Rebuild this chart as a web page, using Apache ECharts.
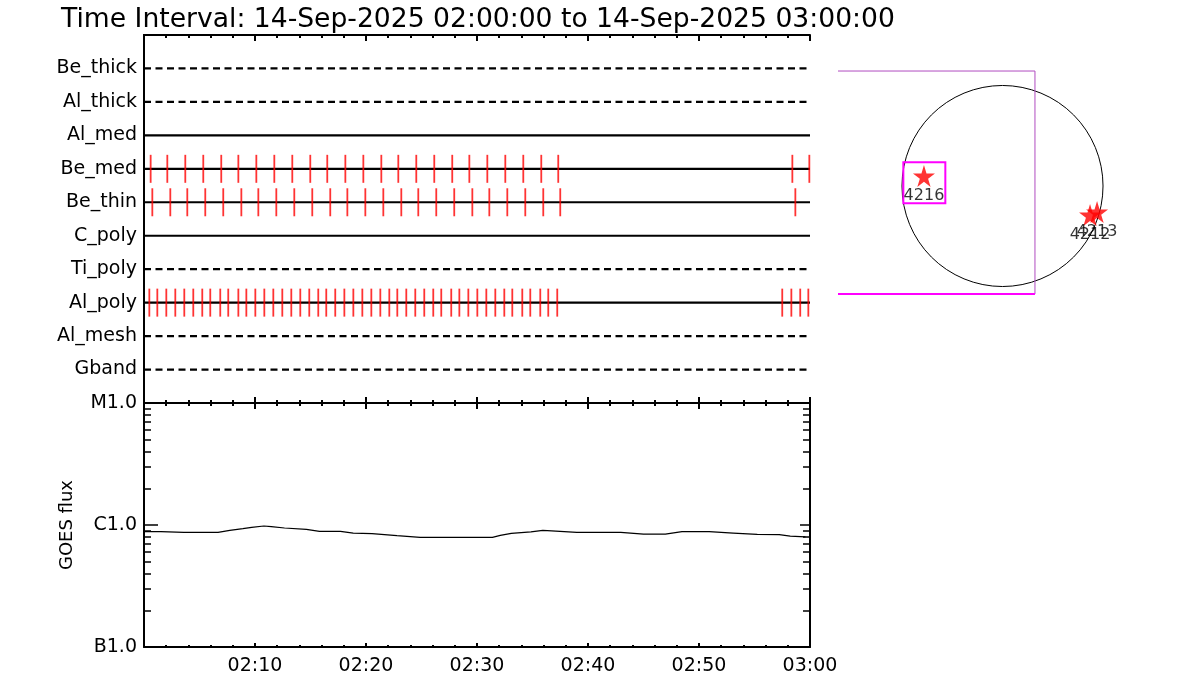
<!DOCTYPE html>
<html>
<head>
<meta charset="utf-8">
<script src="https://cdn.jsdelivr.net/npm/echarts@6/dist/echarts.min.js"></script>
<style>
html,body{margin:0;padding:0;background:#fff;}
#chart{width:1200px;height:700px;}
</style>
</head>
<body>
<div id="chart"></div>
<script>
// ---------------- data ----------------
const titleText = 'Time Interval: 14-Sep-2025 02:00:00 to 14-Sep-2025 03:00:00';
// detectors, top to bottom
const detectors = ['Be_thick','Al_thick','Al_med','Be_med','Be_thin','C_poly','Ti_poly','Al_poly','Al_mesh','Gband'];
const inactiveDetectors = ['Be_thick','Al_thick','Ti_poly','Al_mesh','Gband'];
// event times, minutes after 02:00
const beMedTimes = [0.60,2.10,3.72,5.34,6.96,8.50,10.12,11.74,13.36,14.98,16.51,18.14,19.76,21.38,22.91,24.53,26.15,27.77,29.31,30.93,32.55,34.17,35.79,37.32,58.41,59.94];
const beThinTimes = [0.75,2.37,3.90,5.52,7.14,8.77,10.30,11.92,13.54,15.16,16.78,18.32,19.94,21.56,23.18,24.71,26.33,27.95,29.58,31.11,32.73,34.35,35.97,37.50,58.68];
const alPolyTimes = [0.48,1.20,2.01,2.82,3.63,4.44,5.25,5.97,6.87,7.59,8.50,9.22,10.03,10.84,11.65,12.46,13.27,14.08,14.89,15.70,16.42,17.23,18.05,18.86,19.67,20.48,21.29,22.10,22.82,23.63,24.44,25.25,26.06,26.78,27.68,28.41,29.22,30.03,30.84,31.65,32.46,33.18,34.08,34.80,35.70,36.42,37.23,57.50,58.32,59.12,59.85];
// GOES flux (W/m^2), time in minutes after 02:00
const goesTime = [0.0,1.53,3.59,6.67,7.73,8.91,9.70,10.80,11.47,12.66,14.63,15.81,17.70,18.85,20.54,22.79,24.88,31.39,32.10,33.09,34.86,35.93,36.72,39.00,42.95,45.00,46.97,48.47,50.92,53.08,55.25,57.23,58.22,59.59];
const goesFlux = [8.81e-7,8.81e-7,8.71e-7,8.71e-7,9.04e-7,9.33e-7,9.57e-7,9.81e-7,9.70e-7,9.45e-7,9.21e-7,8.88e-7,8.88e-7,8.59e-7,8.49e-7,8.17e-7,7.92e-7,7.92e-7,8.23e-7,8.55e-7,8.77e-7,9.04e-7,8.96e-7,8.71e-7,8.71e-7,8.43e-7,8.43e-7,8.81e-7,8.81e-7,8.59e-7,8.38e-7,8.33e-7,8.12e-7,7.98e-7];
const goesTickValues = [1e-7,1e-6,1e-5];
const goesTickLabels = ['B1.0','C1.0','M1.0'];
const goesMinorTicks = [2e-7,3e-7,4e-7,5e-7,6e-7,7e-7,8e-7,9e-7,2e-6,3e-6,4e-6,5e-6,6e-6,7e-6,8e-6,9e-6];
const timeTickLabels = ['02:00','02:10','02:20','02:30','02:40','02:50','03:00'];
// solar map (arcsec)
const solarRadius = 960;
const fovBox = [-1571, 310, -1031, 1098];      // x0, x1, y0, y1
const arBox = [-947, -546, -165, 226];          // x0, x1, y0, y1
const arNames = ['4216','4212','4213'];
const arX = [-750, 836, 903];
const arY = [96, -277, -248];

// ---------------- chart ----------------
const chart = echarts.init(document.getElementById('chart'), null, {renderer:'canvas'});
const FONT = 'DejaVu Sans';
const rowOf = name => detectors.length - detectors.indexOf(name);

function timeAxis(gridIndex, position, major, minor, showLabel){
  return {
    type:'value', gridIndex, position, min:0, max:60, interval:10,
    axisLine:{show:true, onZero:false, lineStyle:{color:'#000', width:2}},
    axisTick:{show:true, inside:true, length:major, lineStyle:{color:'#000', width:2}},
    minorTick:{show:true, splitNumber:5, length:minor, lineStyle:{color:'#000', width:2}},
    splitLine:{show:false},
    axisLabel:{show:showLabel, margin:10, color:'#000', fontFamily:FONT, fontSize:19,
      formatter: v => v === 0 ? '' : timeTickLabels[Math.round(v/10)]}
  };
}
function logAxis(position, values, len, showLine, showLabel){
  return {
    type:'log', logBase:10, gridIndex:1, position, min:1e-7, max:1e-5,
    axisLine:{show:showLine, lineStyle:{color:'#000', width:2}},
    axisTick:{show:true, inside:true, length:len, customValues:values, lineStyle:{color:'#000', width:1.5}},
    minorTick:{show:false},
    splitLine:{show:false},
    axisLabel:{show:showLabel, customValues: showLabel ? values : undefined, margin:7, color:'#000', fontFamily:FONT, fontSize:19,
      formatter: v => { const i = goesTickValues.findIndex(t => Math.abs(Math.log10(t) - Math.log10(v)) < 1e-6); return i >= 0 ? goesTickLabels[i] : ''; }},
    name: (position === 'left' && showLabel) ? 'GOES flux' : '',
    nameLocation:'middle', nameGap:68,
    nameTextStyle:{color:'#000', fontFamily:FONT, fontSize:18}
  };
}

const series = [];
// detector rows
detectors.forEach(d => {
  const r = rowOf(d);
  series.push({
    type:'line', xAxisIndex:0, yAxisIndex:0, silent:true, symbol:'none', animation:false,
    data:[[0, r],[60, r]],
    lineStyle:{color:'#000', width:2.2, type: inactiveDetectors.includes(d) ? [7,4.5] : 'solid'}
  });
});
// events
[['Be_med', beMedTimes], ['Be_thin', beThinTimes], ['Al_poly', alPolyTimes]].forEach(([d, times]) => {
  const r = rowOf(d);
  series.push({
    type:'scatter', xAxisIndex:0, yAxisIndex:0, silent:true, animation:false,
    symbol:'rect', symbolSize:[1.8, 28],
    itemStyle:{color:'#ff0000'},
    data: times.map(t => [t, r]), z:5
  });
});
// GOES
series.push({
  type:'line', xAxisIndex:3, yAxisIndex:2, symbol:'none', animation:false, silent:true,
  data: goesTime.map((t,i) => [t, goesFlux[i]]),
  lineStyle:{color:'#000', width:1.2}
});
// solar limb
series.push({
  type:'custom', xAxisIndex:4, yAxisIndex:6, silent:true, animation:false,
  data:[[0,0,solarRadius]],
  renderItem:(params, api) => {
    const c = api.coord([api.value(0), api.value(1)]);
    const r = api.size([api.value(2), 0])[0];
    return {type:'circle', shape:{cx:c[0], cy:c[1], r}, style:{fill:null, stroke:'#000', lineWidth:1}};
  }
});
// FOV box (three visible sides)
series.push({
  type:'custom', xAxisIndex:4, yAxisIndex:6, silent:true, animation:false,
  data:[fovBox],
  renderItem:(params, api) => {
    const tl = api.coord([api.value(0), api.value(3)]);
    const tr = api.coord([api.value(1), api.value(3)]);
    const br = api.coord([api.value(1), api.value(2)]);
    const bl = api.coord([api.value(0), api.value(2)]);
    return {type:'group', children:[
      {type:'polyline', shape:{points:[tl, tr, br]}, style:{fill:null, stroke:'#b04cc0', lineWidth:1}},
      {type:'line', shape:{x1:bl[0], y1:bl[1], x2:br[0], y2:br[1]}, style:{stroke:'#ff00ff', lineWidth:2}}
    ]};
  }
});
// active region box
series.push({
  type:'custom', xAxisIndex:4, yAxisIndex:6, silent:true, animation:false,
  data:[arBox],
  renderItem:(params, api) => {
    const a = api.coord([api.value(0), api.value(3)]);
    const b = api.coord([api.value(1), api.value(2)]);
    return {type:'rect', shape:{x:a[0], y:a[1], width:b[0]-a[0], height:b[1]-a[1]}, style:{fill:null, stroke:'#ff00ff', lineWidth:2}};
  }
});
// active regions
series.push({
  type:'scatter', xAxisIndex:4, yAxisIndex:6, silent:true, animation:false,
  symbol:'path://M50,0 L61,35 L98,35 L68,57 L79,91 L50,70 L21,91 L32,57 L2,35 L39,35 Z',
  symbolSize:22, itemStyle:{color:'#ff0000'},
  label:{show:true, position:'bottom', distance:1, formatter:'{b}', color:'#000', fontFamily:FONT, fontSize:16},
  data: arNames.map((n,i) => ({name:n, value:[arX[i], arY[i]]})), z:6
});

const option = {
  backgroundColor:'#fff',
  animation:false,
  title:{text:titleText, left:56, top:2, textStyle:{fontFamily:FONT, fontSize:26.6, fontWeight:'normal', color:'#000'}},
  grid:[
    {left:144, top:35, width:666, height:368},
    {left:144, top:403, width:666, height:244},
    {left:838, top:21.5, width:329, height:329}
  ],
  xAxis:[
    timeAxis(0, 'bottom', 6, 3, false),
    timeAxis(0, 'top', 6, 3, false),
    timeAxis(1, 'top', 6, 3, false),
    timeAxis(1, 'bottom', 4, 2, true),
    {type:'value', gridIndex:2, min:-1571, max:1571, show:false}
  ],
  yAxis:[
    {type:'value', gridIndex:0, position:'left', min:0, max:detectors.length+1, interval:1,
      axisLine:{show:true, lineStyle:{color:'#000', width:2}},
      axisTick:{show:false}, splitLine:{show:false},
      axisLabel:{margin:7, color:'#000', fontFamily:FONT, fontSize:19,
        formatter: v => (v >= 1 && v <= detectors.length) ? detectors[detectors.length - v] : ''}},
    {type:'value', gridIndex:0, position:'right', min:0, max:detectors.length+1,
      axisLine:{show:true, lineStyle:{color:'#000', width:2}},
      axisTick:{show:false}, axisLabel:{show:false}, splitLine:{show:false}},
    logAxis('left', goesTickValues, 14, true, true),
    logAxis('left', goesMinorTicks, 7, false, false),
    logAxis('right', goesTickValues, 10, true, false),
    logAxis('right', goesMinorTicks, 7, false, false),
    {type:'value', gridIndex:2, min:-1571, max:1571, show:false}
  ],
  series
};
chart.setOption(option);
</script>
</body>
</html>
